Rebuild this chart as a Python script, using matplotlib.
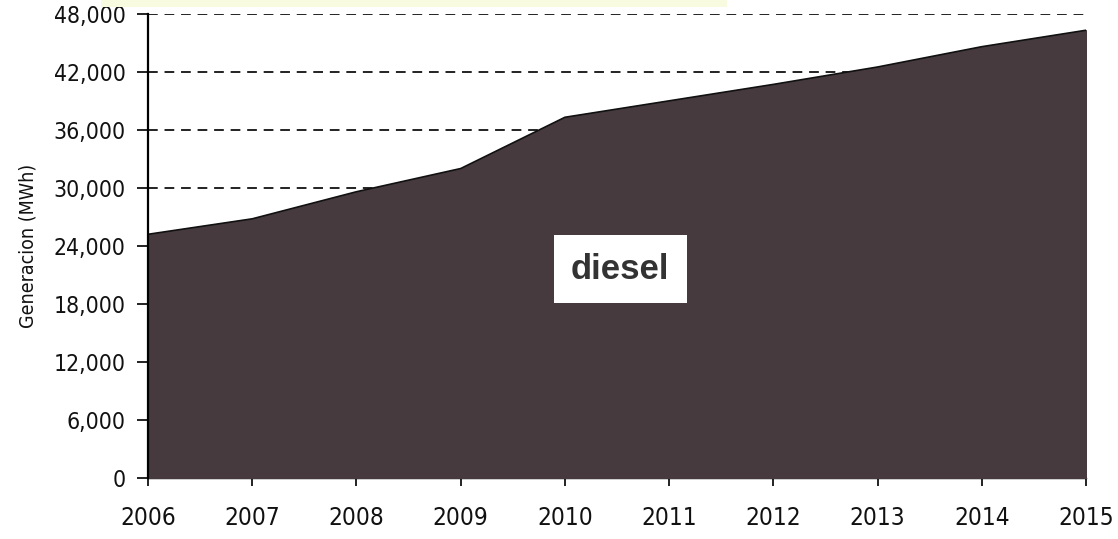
"""Generacion diesel 2006-2015 (area chart)"""
import matplotlib
matplotlib.use("Agg")
import matplotlib.pyplot as plt
from matplotlib.patches import Rectangle
from matplotlib.ticker import FuncFormatter

years = [2006, 2007, 2008, 2009, 2010, 2011, 2012, 2013, 2014, 2015]
diesel_mwh = [25200, 26800, 29600, 32000, 37300, 39000, 40700, 42500, 44600, 46300]
y_ticks = [0, 6000, 12000, 18000, 24000, 30000, 36000, 42000, 48000]
series_label = "diesel"
y_title = "Generacion (MWh)"

plt.rcParams["font.family"] = ["DejaVu Sans"]
plt.rcParams["font.stretch"] = "condensed"

fig = plt.figure(figsize=(11.18, 5.39), dpi=100)
ax = fig.add_axes([0.1324, 0.1132, 0.8390, 0.8612])

# faint highlighter strip across the top edge
fig.patches.append(Rectangle((0.09, 0.987), 0.56, 0.013, transform=fig.transFigure,
                             facecolor="#f8fbe0", edgecolor="none", zorder=0))

ax.fill_between(years, 0, diesel_mwh, color="#463a3e", zorder=3)
ax.plot(years, diesel_mwh, color="#111111", lw=1.2, zorder=4)

for y in y_ticks[1:]:
    ax.axhline(y, color="#222222", lw=1.4, ls=(0, (5, 3.5)), zorder=1)

ax.set_xlim(years[0], years[-1])
ax.set_ylim(0, y_ticks[-1])
ax.set_xticks(years)
ax.set_yticks(y_ticks)
ax.yaxis.set_major_formatter(FuncFormatter(lambda v, p: f"{int(v):,}"))

for side in ("top", "right"):
    ax.spines[side].set_visible(False)
ax.spines["left"].set_linewidth(1.6)
ax.spines["bottom"].set_linewidth(1.0)
ax.spines["left"].set_zorder(5)

ax.tick_params(axis="y", direction="out", length=8, width=1.3, labelsize=16.5, pad=8,
               colors="#111111")
ax.tick_params(axis="x", direction="out", length=6, width=1.3, labelsize=17.5, pad=14,
               colors="#111111")

ax.set_ylabel(y_title, fontsize=14, labelpad=12, color="#111111")

ax.text(2010.53, 21600, series_label, fontsize=25, fontweight="bold",
        family=["Liberation Sans", "DejaVu Sans"], stretch="normal", color="#333333",
        ha="center", va="center", zorder=6,
        bbox=dict(boxstyle="square,pad=0.5", facecolor="white", edgecolor="none"))

fig.savefig("out.png", dpi=100)
plt.close(fig)
